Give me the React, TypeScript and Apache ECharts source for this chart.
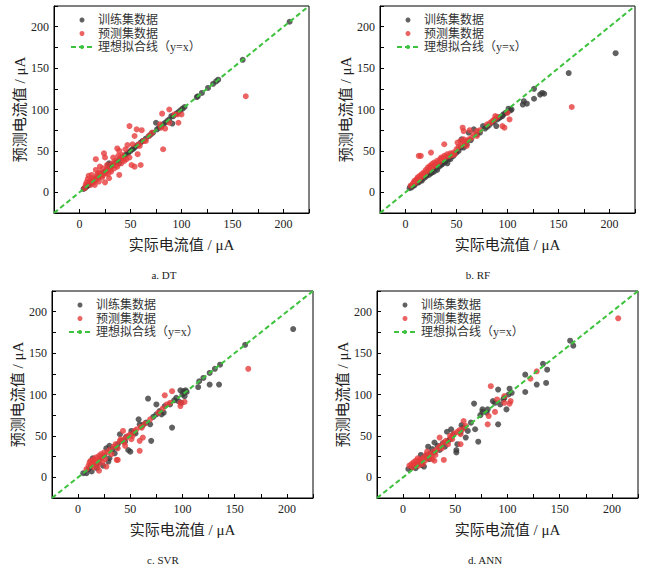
import { useEffect, useRef } from "react";
import * as echarts from "echarts";

// [实际值, 预测值] pairs
const dtTrain = [
  [4, 4], [5, 5], [6, 6], [7, 7], [8, 8], [9, 9], [10, 10], [11, 11], [12, 12], [13, 13],
  [14, 14], [15, 15], [16, 16], [17, 17], [18, 18], [19, 19], [20, 20], [21, 21], [22, 22],
  [24, 24], [25, 25], [27, 27], [28, 33], [29, 35], [30, 30], [32, 32], [33, 33], [35, 35],
  [36, 36], [38, 38], [39, 35], [40, 40], [42, 42], [44, 44], [45, 45], [47, 47], [48, 48],
  [50, 50], [52, 52], [53, 53], [55, 55], [57, 57], [60, 60], [62, 62], [65, 65], [68, 68],
  [70, 70], [72, 72], [75, 84], [76, 76], [78, 78], [80, 80], [82, 82], [84, 84], [86, 86],
  [88, 88], [90, 92], [91, 83], [92, 92], [95, 95], [97, 97], [99, 99], [101, 101], [103, 103],
  [115, 115], [116, 116], [120, 120], [126, 126], [131, 131], [134, 134], [136, 136],
  [160, 160], [206, 206],
];
const dtTest = [
  [163, 116], [49, 80], [56, 76], [61, 75], [54, 68], [65, 62], [45, 52], [47, 57], [52, 58],
  [59, 56], [37, 53], [39, 50], [57, 46], [60, 33], [54, 31], [51, 33], [46, 40], [49, 42],
  [38, 44], [33, 42], [39, 21], [16, 40], [24, 47], [25, 42], [20, 31], [18, 23], [25, 12],
  [9, 20], [12, 21], [10, 13], [6, 9], [7, 12], [16, 15], [19, 13], [15, 9], [29, 17], [34, 29],
  [31, 25], [37, 31], [41, 35], [82, 52], [88, 100], [81, 95], [80, 78], [84, 77], [100, 94],
  [96, 94], [93, 94], [97, 84], [88, 84], [79, 82], [16, 27], [21, 23], [23, 29], [26, 23],
  [8, 16], [11, 9], [13, 17], [14, 12], [17, 20], [22, 18], [27, 28], [30, 27], [35, 38],
  [42, 45], [44, 38], [28, 22], [5, 5], [12, 14], [18, 17], [20, 24], [23, 20], [27, 33],
  [32, 35], [36, 33], [40, 42], [43, 40], [58, 58], [63, 62], [68, 68], [71, 72],
];

const rfTrain = [
  [206, 168], [160, 144], [136, 119], [134, 120], [132, 118], [126, 125], [126, 113], [119, 107],
  [116, 110], [115, 106], [104, 100], [101, 101], [98, 96], [96, 94], [95, 92], [92, 90], [90, 88],
  [89, 80], [85, 84], [76, 80], [67, 76], [62, 72], [55, 64], [54, 54], [57, 54], [60, 58],
  [50, 48], [47, 44], [44, 40], [41, 35], [38, 36], [35, 33], [31, 27], [28, 25], [25, 23],
  [21, 21], [18, 17], [15, 15], [12, 12], [10, 11], [8, 8], [5, 7], [6, 6], [4, 5], [9, 9],
  [13, 12], [16, 14], [20, 19], [23, 21], [26, 24], [30, 29], [33, 31], [36, 34], [39, 37],
  [42, 40], [45, 44], [48, 46], [52, 50], [58, 57], [64, 63], [70, 70], [73, 72], [78, 77],
  [80, 79], [82, 81], [87, 86], [93, 91], [100, 97], [103, 99],
];
const rfTest = [
  [163, 103], [100, 96], [102, 88], [95, 80], [97, 78], [88, 92], [87, 88], [80, 82], [83, 84],
  [70, 74], [67, 70], [63, 75], [57, 74], [56, 78], [70, 68], [57, 64], [54, 62], [51, 60],
  [60, 56], [38, 58], [15, 44], [13, 44], [25, 48], [5, 8], [7, 10], [8, 12], [9, 14], [10, 12],
  [11, 16], [12, 18], [13, 15], [14, 20], [15, 18], [16, 22], [17, 20], [18, 24], [19, 22],
  [20, 27], [21, 25], [22, 30], [23, 28], [24, 32], [25, 30], [26, 34], [27, 31], [28, 36],
  [29, 33], [30, 35], [31, 38], [33, 36], [34, 40], [35, 42], [37, 41], [38, 44], [40, 43],
  [41, 46], [43, 44], [44, 47], [46, 45], [47, 48], [48, 46], [50, 52], [52, 55], [55, 57],
  [58, 60], [60, 62], [62, 64], [65, 66], [73, 75], [85, 86], [90, 91],
];

const svrTrain = [
  [206, 179], [160, 160], [136, 136], [135, 112], [131, 131], [126, 126], [126, 112], [120, 120],
  [116, 116], [115, 109], [103, 105], [101, 104], [98, 105], [102, 98], [94, 96], [96, 92],
  [99, 90], [90, 60], [83, 86], [82, 78], [80, 76], [75, 88], [75, 76], [67, 95], [70, 44],
  [58, 70], [59, 64], [69, 64], [50, 31], [48, 33], [35, 29], [30, 23], [29, 19], [14, 23],
  [8, 5], [13, 7], [40, 52], [51, 56], [53, 54], [30, 38], [27, 35], [5, 5], [10, 10], [12, 13],
  [17, 15], [20, 18], [22, 24], [25, 26], [33, 34], [37, 36], [42, 44], [45, 43], [55, 53],
  [62, 63], [65, 66], [72, 73], [78, 80], [88, 88], [92, 93], [100, 100], [104, 103], [18, 11],
  [24, 14], [38, 40], [46, 49],
];
const svrTest = [
  [163, 131], [102, 91], [98, 86], [98, 90], [90, 104], [83, 99], [88, 90], [85, 88], [77, 78],
  [69, 70], [61, 60], [62, 48], [59, 44], [59, 32], [51, 46], [54, 56], [48, 50], [43, 56],
  [40, 44], [45, 38], [37, 21], [38, 21], [27, 13], [8, 10], [10, 14], [11, 18], [12, 20],
  [13, 15], [14, 19], [15, 22], [16, 17], [17, 24], [18, 20], [19, 14], [20, 26], [21, 22],
  [22, 28], [23, 18], [24, 25], [25, 30], [26, 22], [28, 30], [30, 33], [32, 28], [34, 37],
  [36, 40], [38, 35], [41, 46], [44, 42], [46, 48], [50, 52], [52, 50], [56, 58], [60, 61],
  [64, 65], [20, 8], [15, 12], [81, 83],
];

const annTrain = [
  [160, 165], [163, 159], [134, 137], [138, 130], [137, 114], [128, 112], [117, 124], [117, 103],
  [102, 107], [104, 102], [101, 100], [91, 106], [96, 94], [99, 82], [93, 88], [91, 64], [86, 92],
  [81, 82], [76, 82], [76, 79], [68, 89], [69, 58], [72, 43], [62, 56], [60, 48], [51, 33],
  [51, 30], [52, 40], [46, 58], [43, 44], [33, 38], [26, 29], [23, 23], [17, 27], [5, 10],
  [12, 11], [20, 13], [8, 12], [10, 14], [14, 16], [16, 19], [18, 15], [22, 26], [25, 22],
  [28, 34], [30, 30], [35, 33], [38, 41], [40, 37], [45, 46], [48, 52], [55, 54], [58, 60],
  [65, 66], [74, 75], [80, 78], [88, 90], [97, 96], [24, 37], [30, 42], [42, 55], [56, 63],
];
const annTest = [
  [206, 192], [128, 128], [122, 119], [84, 110], [97, 98], [103, 92], [102, 89], [97, 90],
  [90, 94], [82, 74], [81, 64], [88, 79], [58, 68], [55, 52], [55, 40], [46, 48], [39, 21],
  [35, 48], [36, 38], [23, 31], [14, 23], [6, 14], [8, 16], [9, 12], [10, 18], [11, 15],
  [12, 20], [13, 17], [15, 14], [16, 21], [17, 18], [18, 22], [19, 16], [20, 24], [21, 20],
  [22, 27], [24, 23], [26, 28], [27, 25], [29, 31], [31, 27], [32, 33], [34, 36], [37, 35],
  [39, 42], [41, 44], [43, 40], [45, 50], [47, 46], [49, 53], [52, 55], [54, 57], [57, 58],
  [60, 62], [30, 20], [28, 22],
];

const idealLine = [[-25, -25], [225, 225]];
const axisTicks = [0, 50, 100, 150, 200];

const seriesNames = ["训练集数据", "预测集数据", "理想拟合线（y=x）"];

const SERIF = "'Liberation Serif', 'Noto Sans CJK SC', serif";
const DARK = "#3a3a3a";
const RED = "#e63c3c";
const GREEN = "#3cc23c";

const panels = [
  { caption: "a. DT", train: dtTrain, test: dtTest, left: 54, top: 6, width: 255, cx: 164, cy: 275 },
  { caption: "b. RF", train: rfTrain, test: rfTest, left: 380, top: 6, width: 255, cx: 478, cy: 275 },
  { caption: "c. SVR", train: svrTrain, test: svrTest, left: 52, top: 291, width: 261, cx: 163, cy: 560 },
  { caption: "d. ANN", train: annTrain, test: annTest, left: 377, top: 291, width: 261, cx: 485, cy: 560 },
];

const PLOT_H = 207;

export default function App() {
  const chartRef = useRef<HTMLDivElement>(null);

  useEffect(() => {
    if (!chartRef.current) return;
    const chart = echarts.init(chartRef.current, undefined, { renderer: "svg" });

    const axisCommon = (i: number, name: string, gap: number) => ({
      gridIndex: i,
      type: "value",
      min: -25,
      max: 225,
      interval: 25,
      name,
      nameLocation: "middle",
      nameGap: gap,
      nameTextStyle: { fontFamily: SERIF, fontSize: 15, color: "#222" },
      axisLine: { show: true, onZero: false, lineStyle: { color: "#000", width: 1 } },
      axisTick: { show: true, inside: true, length: 4, lineStyle: { color: "#000" } },
      axisLabel: {
        margin: 5,
        fontFamily: SERIF,
        fontSize: 12,
        color: "#222",
        formatter: (v: number) => (axisTicks.includes(v) ? String(v) : ""),
      },
      splitLine: { show: false },
    });

    const option = {
      animation: false,
      grid: panels.map((p) => ({
        left: p.left,
        top: p.top,
        width: p.width,
        height: PLOT_H,
        show: true,
        borderColor: "#000",
        borderWidth: 1,
        backgroundColor: "transparent",
      })),
      xAxis: panels.map((_, i) => axisCommon(i, "实际电流值 / μA", 24)),
      yAxis: panels.map((_, i) => axisCommon(i, "预测电流值 / μA", 22)),
      legend: panels.map((p) => ({
        orient: "vertical",
        left: p.left + 11,
        top: p.top + 3,
        itemWidth: 22,
        itemHeight: 5,
        itemGap: 1.5,
        textStyle: { fontFamily: SERIF, fontSize: 12, lineHeight: 12, color: "#333" },
        data: seriesNames,
      })),
      series: panels.flatMap((p, i) => [
        {
          name: seriesNames[0],
          type: "scatter",
          xAxisIndex: i,
          yAxisIndex: i,
          symbolSize: 6,
          itemStyle: { color: DARK },
          data: p.train,
        },
        {
          name: seriesNames[1],
          type: "scatter",
          xAxisIndex: i,
          yAxisIndex: i,
          symbolSize: 6,
          itemStyle: { color: RED },
          data: p.test,
        },
        {
          name: seriesNames[2],
          type: "line",
          xAxisIndex: i,
          yAxisIndex: i,
          symbol: "none",
          legendIcon: "roundRect",
          itemStyle: { color: GREEN },
          lineStyle: { color: GREEN, width: 2, type: [5, 3] },
          data: idealLine,
        },
      ]),
      graphic: panels.map((p) => ({
        type: "text",
        x: p.cx,
        y: p.cy,
        style: {
          text: p.caption,
          fontFamily: SERIF,
          fontSize: 11,
          fill: "#222",
          textAlign: "center",
          textVerticalAlign: "middle",
        },
      })),
    };

    chart.setOption(option as any);

    return () => {
      chart.dispose();
    };
  }, []);

  return (
    <div
      ref={chartRef}
      style={{ position: "absolute", left: 0, top: 0, width: 650, height: 570, background: "#fff" }}
    ></div>
  );
}
